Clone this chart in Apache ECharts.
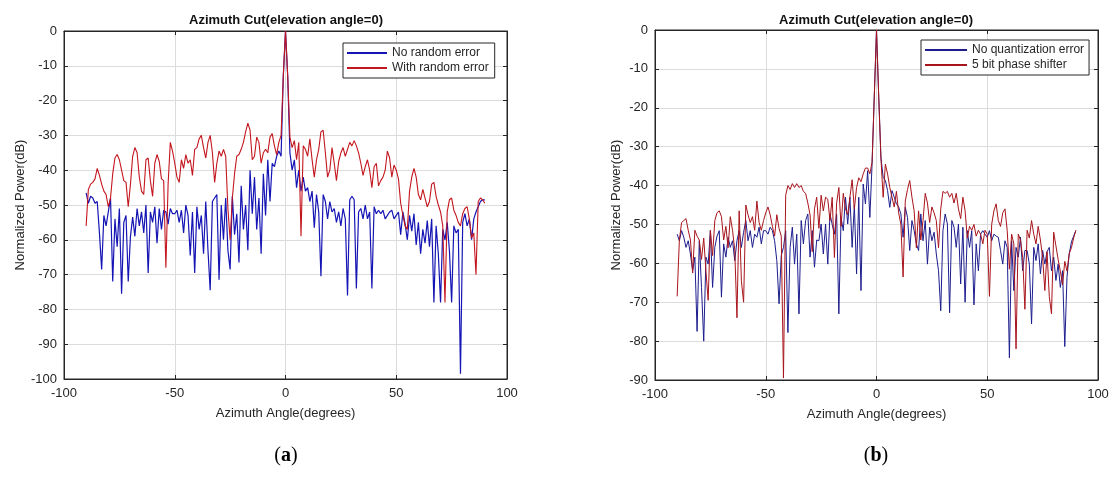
<!DOCTYPE html>
<html>
<head>
<meta charset="utf-8">
<script src="https://cdn.jsdelivr.net/npm/echarts@6/dist/echarts.min.js"></script>
<style>
html,body{margin:0;padding:0;background:#fff;}
#chart{width:1113px;height:477px;}
</style>
</head>
<body>
<div id="chart"></div>
<script>
// Azimuth angles (degrees), one sample per degree
const angles = [-90,-89,-88,-87,-86,-85,-84,-83,-82,-81,-80,-79,-78,-77,-76,-75,-74,-73,-72,-71,
-70,-69,-68,-67,-66,-65,-64,-63,-62,-61,-60,-59,-58,-57,-56,-55,-54,-53,-52,-51,
-50,-49,-48,-47,-46,-45,-44,-43,-42,-41,-40,-39,-38,-37,-36,-35,-34,-33,-32,-31,
-30,-29,-28,-27,-26,-25,-24,-23,-22,-21,-20,-19,-18,-17,-16,-15,-14,-13,-12,-11,
-10,-9,-8,-7,-6,-5,-4,-3,-2,-1,0,1,2,3,4,5,6,7,8,9,10,
11,12,13,14,15,16,17,18,19,20,21,22,23,24,25,26,27,28,29,30,
31,32,33,34,35,36,37,38,39,40,41,42,43,44,45,46,47,48,49,50,
51,52,53,54,55,56,57,58,59,60,61,62,63,64,65,66,67,68,69,70,
71,72,73,74,75,76,77,78,79,80,81,82,83,84,85,86,87,88,89,90];

// Panel (a): No random error
const noRandomError = [
-46.5,-49.5,-47.5,-48,-49.5,-49,-58,-68.5,-53,-56,
-52,-48,-72,-54,-62,-51,-75.5,-55,-53,-72,
-59,-53.5,-59,-51,-56,-52,-58,-50,-69.5,-52,
-55,-50.5,-61,-51,-57,-51.5,-52,-55.5,-51,-52.5,
-52.5,-51.5,-55,-51.5,-58,-50,-53,-64.5,-52,-69.5,
-50.5,-57,-53,-64,-49,-63,-74.5,-49,-48,-47,
-71.5,-50,-60,-48,-63,-68.5,-47.5,-58.5,-52.5,-66.5,
-44.5,-57,-50,-63,-40,-52.5,-42,-57,-48,-64,
-41,-53,-37,-49,-38,-39,-36,-34.5,-36,-13,
0,
-13,-35,-40,-37,-45,-40,-46,-42,-46,-45,
-49,-46,-56.5,-47,-52,-70.5,-47,-49,-54,-49,
-52,-51,-55,-52,-56,-51,-54,-76,-48.5,-47.5,
-48.5,-74,-52,-51,-54,-50,-54,-52,-74,-50.5,
-52.5,-51.5,-52.5,-51.5,-54,-53,-52,-51.5,-54,-53,
-52,-58.5,-52,-55.5,-60,-53,-57.5,-52.5,-61.5,-55,
-64,-57,-61,-54.5,-62,-54,-78,-56,-64,-78,
-57,-60,-55,-63,-78,-56,-58,-57,-98.5,-55,
-52.5,-56,-54,-60,-54,-52,-50.5,-49,-48.5,-48.5];

// Panel (a): With random error
const withRandomError = [
-56,-45.5,-44,-43.5,-42.5,-39.5,-41.5,-44,-46,-47,
-50.5,-48,-41,-36.5,-35.5,-37,-40,-43,-43.5,-50.5,
-44,-36,-33.5,-35,-42,-46,-47,-37,-36.5,-43,
-47.5,-38,-35.5,-37.5,-42.5,-43,-68,-44,-32,-34.5,
-38,-42,-43.5,-37,-39.5,-35.5,-38,-37,-41.5,-34,
-33.5,-31,-30,-33.5,-36.5,-32,-30,-35,-43.5,-38,
-34.5,-36,-34,-36,-51,-60,-48,-41,-36,-35.5,
-34,-32,-29,-26.5,-28.5,-37,-36,-30.5,-32,-38,
-35,-34,-35,-30.5,-29.5,-33,-35.5,-32,-30,-13,
0,
-13,-30.5,-33.5,-31.5,-37,-32,-59,-33,-34,-36,
-31,-37,-42,-37,-34,-29,-28.5,-35,-42,-40,
-33.5,-38,-43,-37.5,-35,-33.5,-36,-34,-32,-33,
-31.5,-33,-35,-38,-41.5,-39,-37,-40,-45,-39,
-38,-44.5,-43,-42,-40,-34.5,-36.5,-42,-38.5,-40,
-42.5,-49.5,-53,-56,-57,-46,-42,-39.5,-42,-47,
-48.5,-45.5,-48,-50.5,-49,-44,-43.5,-47.5,-50,-52,
-56,-78,-52,-48.5,-48,-51.5,-53,-55,-56,-52.5,
-51,-50.5,-54,-59.5,-58,-70,-49,-48,-48.5,-49.5];

// Panel (b): No quantization error
const noQuantError = [
-52.5,-54.2,-51.6,-53.3,-55.9,-54.2,-57.6,-61.9,-58.4,-77.5,
-54.2,-66.2,-80,-58.4,-60.2,-51.6,-66.2,-55.9,-53,-51.6,
-68.7,-55,-58.4,-53.3,-55.9,-54.2,-59.3,-54.2,-51.6,-55.9,
-52,-49,-54.2,-51.6,-55.9,-52.5,-53.3,-50.7,-55,-51.6,
-51.6,-52.5,-50.7,-51.6,-54.2,-59.3,-70.4,-58,-55.9,-51.6,
-77.8,-55.9,-50.7,-60.2,-52.5,-73,-49,-55,-49,-47.3,
-58.4,-51.6,-61,-54,-54.2,-49.9,-57.6,-49.9,-60.2,-47.3,
-50,-52.5,-47.3,-73,-48.2,-51.6,-43,-49.9,-43,-55.9,
-45,-62.7,-43,-67,-39.6,-44.7,-36.2,-48.2,-34.5,-17,
0,
-17,-32.7,-37.9,-38.7,-41.3,-45.6,-41.3,-43,-44.7,-45.5,
-47.3,-53.3,-45.6,-48.2,-56.7,-49,-51.6,-55,-56.7,-47.3,
-54.2,-49,-60.2,-50.7,-54.2,-52,-57.6,-61.9,-72.2,-51.6,
-47.3,-49.9,-72.7,-49,-50.7,-55.9,-49.9,-65.3,-50.7,-70,
-51.6,-55.9,-51.6,-70.7,-55,-61.9,-52.5,-51.6,-52.5,-53.3,
-51.6,-54.2,-52.5,-53,-53.3,-56.7,-60.2,-54.2,-55.9,-84.3,
-54.2,-67,-55.9,-58.4,-53.3,-61.9,-56.7,-56.7,-60.2,-75.6,
-55.9,-59.3,-55,-62.7,-56.7,-60.2,-57,-55.9,-61.9,-58.4,
-64.4,-60.2,-66.2,-61.9,-81.4,-63.6,-57.6,-54.5,-53,-51.6];

// Panel (b): 5 bit phase shifter
const fiveBitShifter = [
-68.5,-54,-49.5,-49,-48.5,-51.5,-54,-62.5,-51.5,-53,
-54,-59,-53.5,-62,-69.5,-51.5,-58,-49,-47,-46.5,
-48,-54,-50.5,-56,-48,-51.5,-56.5,-74,-46.5,-64.5,
-70,-45,-47.5,-49.5,-48,-51.5,-44,-49.5,-51.5,-49,
-47,-45.5,-47.5,-50.5,-53,-47.5,-51,-53,-89.5,-42.5,
-40,-41,-39.5,-40.5,-39.5,-40.5,-40,-41.5,-42,-44.5,
-47.5,-57,-46,-43,-51,-42.5,-46.5,-43,-43.5,-49,
-43,-58.5,-44.5,-40.5,-50.5,-42,-46,-47.5,-43,-38.5,
-46,-40.5,-38,-39,-37,-35.5,-35.5,-37,-34,-17,
0,
-17,-33,-43,-34.5,-37,-40.5,-43,-45.5,-41.5,-47,
-50,-63.5,-44,-41,-38.7,-43,-46.5,-56,-46.5,-54,
-49,-42,-44.5,-49.5,-45.5,-47,-49,-56,-46,-41.5,
-42,-41.5,-43,-42,-44.5,-42,-46,-48.5,-43,-46.5,
-53.5,-50.5,-51.5,-50,-53,-51.5,-52.5,-55,-51.5,-52.5,
-68.5,-50,-46.5,-44.7,-49,-50.5,-47,-46,-51.5,-61.5,
-52.5,-55,-82,-52.5,-54,-58.5,-71.8,-51.5,-53.5,-49,
-52.5,-55,-50.5,-54,-58.5,-67,-57,-68.5,-73,-52,
-55.5,-59,-62,-65.5,-59.5,-62,-57.5,-56,-53.5,-51.5];

const titleText = 'Azimuth Cut(elevation angle=0)';
const xName = 'Azimuth Angle(degrees)';
const yName = 'Normalized Power(dB)';
const panelLabels = ['a', 'b'];

const pairs = (xs, ys) => xs.map((x, i) => [x, ys[i]]);

const ink = '#262626';
const gridCol = '#dcdcdc';
const font = '"Liberation Sans", Arial, sans-serif';

function xAxes(gi) {
  return [
    { gridIndex: gi, type: 'value', min: -100, max: 100, interval: 50, position: 'bottom',
      axisLine: { onZero: false, lineStyle: { color: ink, width: 1 } },
      axisTick: { inside: true, length: 4, lineStyle: { color: ink } },
      axisLabel: { color: ink, fontSize: 13, fontFamily: font, margin: 8 },
      splitLine: { show: true, lineStyle: { color: gridCol, width: 1 } },
      name: xName, nameLocation: 'middle', nameGap: 28,
      nameTextStyle: { color: ink, fontSize: 13, fontFamily: font } },
    { gridIndex: gi, type: 'value', min: -100, max: 100, interval: 50, position: 'top',
      axisLine: { onZero: false, lineStyle: { color: ink, width: 1 } },
      axisTick: { inside: true, length: 4, lineStyle: { color: ink } },
      axisLabel: { show: false }, splitLine: { show: false } }
  ];
}
function yAxes(gi, ymin, gap) {
  return [
    { gridIndex: gi, type: 'value', min: ymin, max: 0, interval: 10, position: 'left',
      axisLine: { show: true, onZero: false, lineStyle: { color: ink, width: 1 } },
      axisTick: { show: true, inside: true, length: 4, lineStyle: { color: ink } },
      axisLabel: { color: ink, fontSize: 13, fontFamily: font, margin: 7 },
      splitLine: { show: true, lineStyle: { color: gridCol, width: 1 } },
      name: yName, nameLocation: 'middle', nameGap: gap, nameRotate: 90,
      nameTextStyle: { color: ink, fontSize: 13, fontFamily: font } },
    { gridIndex: gi, type: 'value', min: ymin, max: 0, interval: 10, position: 'right',
      axisLine: { show: true, onZero: false, lineStyle: { color: ink, width: 1 } },
      axisTick: { show: true, inside: true, length: 4, lineStyle: { color: ink } },
      axisLabel: { show: false }, splitLine: { show: false } }
  ];
}

function lineSeries(name, xi, yi, ys, color, width, z) {
  return { type: 'line', name: name, xAxisIndex: xi, yAxisIndex: yi,
    data: pairs(angles, ys), symbol: 'none', showSymbol: false,
    lineStyle: { color: color, width: width }, itemStyle: { color: color },
    z: z, animation: false };
}

const legendBase = {
  orient: 'vertical', backgroundColor: '#fff', borderColor: ink, borderWidth: 1,
  borderRadius: 0, itemGap: 3, itemHeight: 2, icon: 'rect',
  textStyle: { color: ink, fontSize: 12, fontFamily: font }
};

const labelFont = '20px "Liberation Serif", "DejaVu Serif", serif';
function panelLabel(x, letter) {
  return { type: 'text', x: x, y: 456, style: {
    text: '{p|(}{b|' + letter + '}{p|)}', textAlign: 'center', textVerticalAlign: 'middle',
    rich: { p: { font: labelFont, fill: '#000' }, b: { font: 'bold ' + labelFont, fill: '#000' } } } };
}

const chart = echarts.init(document.getElementById('chart'), null, { renderer: 'canvas' });
chart.setOption({
  backgroundColor: '#fff',
  animation: false,
  grid: [
    { left: 64, top: 31, width: 443, height: 348, show: true, borderColor: ink, borderWidth: 1, backgroundColor: '#fff' },
    { left: 655, top: 30, width: 443, height: 350, show: true, borderColor: ink, borderWidth: 1, backgroundColor: '#fff' }
  ],
  xAxis: xAxes(0).concat(xAxes(1)),
  yAxis: yAxes(0, -100, 34).concat(yAxes(1, -90, 32)),
  legend: [
    Object.assign({}, legendBase, { data: ['No random error', 'With random error'],
      left: 343, top: 43, padding: [4, 6, 4, 4], itemWidth: 40 }),
    Object.assign({}, legendBase, { data: ['No quantization error', '5 bit phase shifter'],
      left: 921, top: 40, padding: [4, 5, 4, 4], itemWidth: 42 })
  ],
  series: [
    lineSeries('No random error', 0, 0, noRandomError, '#1515b5', 1.2, 2),
    lineSeries('With random error', 0, 0, withRandomError, '#c4161e', 1.1, 3),
    lineSeries('No quantization error', 2, 2, noQuantError, '#1d1d8e', 1, 2),
    lineSeries('5 bit phase shifter', 2, 2, fiveBitShifter, '#a8141c', 1, 3)
  ],
  graphic: [
    { type: 'text', x: 286, y: 20, style: { text: titleText, textAlign: 'center', textVerticalAlign: 'middle',
      fill: '#111', font: 'bold 13px ' + font } },
    { type: 'text', x: 876, y: 20, style: { text: titleText, textAlign: 'center', textVerticalAlign: 'middle',
      fill: '#111', font: 'bold 13px ' + font } },
    panelLabel(286, panelLabels[0]),
    panelLabel(876, panelLabels[1])
  ]
});
</script>
</body>
</html>
